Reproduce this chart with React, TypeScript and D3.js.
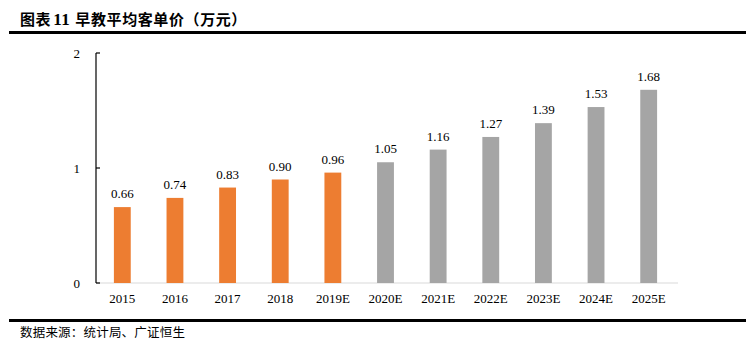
import React from "react";
import * as d3 from "d3";

const categories = ["2015", "2016", "2017", "2018", "2019E", "2020E", "2021E", "2022E", "2023E", "2024E", "2025E"];
const values = [0.66, 0.74, 0.83, 0.9, 0.96, 1.05, 1.16, 1.27, 1.39, 1.53, 1.68];
const estimateFrom = 5;
const yTicks = [0, 1, 2];
const titleA = "图表";
const titleNum = "11 ";
const titleB = "早教平均客单价（万元）";
const source = "数据来源：统计局、广证恒生";

export default function App() {
  const W = 755, H = 344;
  const left = 96, right = 675, top = 53, bottom = 283;
  const x = d3.scaleBand<string>().domain(categories).range([left, right]).paddingInner(0.68).paddingOuter(0.34);
  const y = d3.scaleLinear().domain([0, 2]).range([bottom, top]);
  const serif = "'Liberation Serif', 'Times New Roman', serif";
  const cjk = "'Noto Sans CJK SC', sans-serif";
  return (
    <svg width={W} height={H} style={{ position: "absolute", left: 0, top: 0, background: "#fff" }}>
      <text x={20} y={25} fontFamily={cjk} fontWeight="bold" fontSize={15} fill="#000" letterSpacing={0.6}>
        <tspan>{titleA}</tspan>
        <tspan fontFamily={serif} fontSize={17} dx={2}>{titleNum}</tspan>
        <tspan>{titleB}</tspan>
      </text>
      <rect x={9} y={31} width={737} height={3} fill="#000" />
      <line x1={left} x2={678} y1={y(0)} y2={y(0)} stroke="#d9d9d9" strokeWidth={1} />
      {categories.map((c, i) => (
        <g key={c}>
          <rect x={x(c)} y={y(values[i])} width={x.bandwidth()} height={y(0) - y(values[i])} fill={i < estimateFrom ? "#ED7D31" : "#A5A5A5"} />
          <text x={(x(c) as number) + x.bandwidth() / 2} y={y(values[i]) - 9} textAnchor="middle" fontFamily={serif} fontSize={13} fill="#000">{values[i].toFixed(2)}</text>
          <text x={(x(c) as number) + x.bandwidth() / 2} y={303} textAnchor="middle" fontFamily={serif} fontSize={13} fill="#000">{c}</text>
        </g>
      ))}
      <line x1={left} x2={left} y1={y(2)} y2={y(0)} stroke="#000" strokeWidth={1.2} />
      {yTicks.map((t) => (
        <g key={t}>
          <line x1={left} x2={left + 4} y1={y(t)} y2={y(t)} stroke="#000" strokeWidth={1.2} />
          <text x={80} y={y(t) + 4.5} textAnchor="end" fontFamily={serif} fontSize={13} fill="#000">{t}</text>
        </g>
      ))}
      <rect x={9} y={319} width={737} height={3} fill="#000" />
      <text x={20} y={337} fontFamily={cjk} fontSize={12.5} fill="#000" letterSpacing={0.2}>{source}</text>
    </svg>
  );
}
